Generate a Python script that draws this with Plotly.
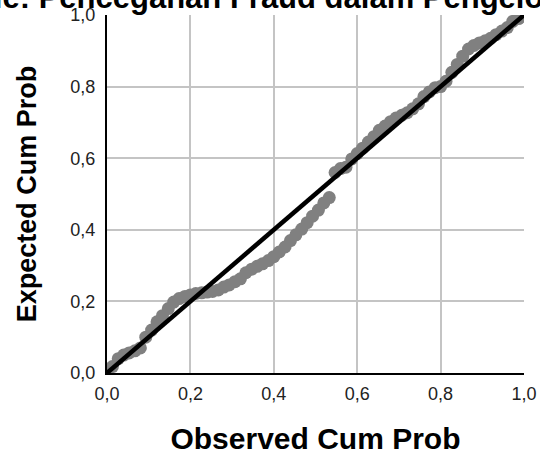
import plotly.graph_objects as go

# Normal P-P plot of regression standardized residuals
observed_cum_prob = [
    0.013, 0.027, 0.040, 0.053, 0.067, 0.080, 0.093, 0.107, 0.120, 0.133,
    0.147, 0.160, 0.173, 0.187, 0.200, 0.213, 0.227, 0.240, 0.253, 0.267,
    0.280, 0.293, 0.307, 0.320, 0.333, 0.347, 0.360, 0.373, 0.387, 0.400,
    0.413, 0.427, 0.440, 0.453, 0.467, 0.480, 0.493, 0.507, 0.520, 0.533,
    0.547, 0.560, 0.573, 0.587, 0.600, 0.613, 0.627, 0.640, 0.653, 0.667,
    0.680, 0.693, 0.707, 0.720, 0.733, 0.747, 0.760, 0.773, 0.787, 0.800,
    0.813, 0.827, 0.840, 0.853, 0.867, 0.880, 0.893, 0.907, 0.920, 0.933,
    0.947, 0.960, 0.973, 0.987, 1.000,
]
expected_cum_prob = [
    0.018, 0.040, 0.050, 0.056, 0.062, 0.070, 0.100, 0.120, 0.143, 0.160,
    0.180, 0.198, 0.208, 0.214, 0.218, 0.222, 0.224, 0.226, 0.228, 0.232,
    0.240, 0.246, 0.255, 0.263, 0.280, 0.290, 0.298, 0.305, 0.314, 0.325,
    0.338, 0.352, 0.370, 0.386, 0.402, 0.420, 0.438, 0.455, 0.475, 0.490,
    0.560, 0.571, 0.575, 0.598, 0.613, 0.628, 0.645, 0.660, 0.678, 0.690,
    0.702, 0.712, 0.720, 0.727, 0.738, 0.752, 0.772, 0.785, 0.797, 0.800,
    0.815, 0.840, 0.862, 0.885, 0.905, 0.915, 0.922, 0.928, 0.935, 0.945,
    0.955, 0.965, 0.982, 0.990, 0.997,
]
reference_line = [0.0, 1.0]

tick_vals = [0.0, 0.2, 0.4, 0.6, 0.8, 1.0]
tick_text = ["0,0", "0,2", "0,4", "0,6", "0,8", "1,0"]

title_text = "Dependent Variable: Pencegahan Fraud dalam Pengelolaan Dana Desa"

FONT = "Liberation Sans, Arial"

fig = go.Figure()
fig.add_trace(go.Scatter(
    x=observed_cum_prob, y=expected_cum_prob, mode="markers",
    marker=dict(size=13, color="#808080", line=dict(width=0)),
    hoverinfo="skip", showlegend=False,
))
fig.add_trace(go.Scatter(
    x=reference_line, y=reference_line, mode="lines",
    line=dict(color="black", width=4.5), cliponaxis=False,
    hoverinfo="skip", showlegend=False,
))

axis_common = dict(
    range=[0, 1], tickmode="array", tickvals=tick_vals, ticktext=tick_text,
    showgrid=True, gridcolor="#c4c4c4", gridwidth=2,
    showline=True, linecolor="black", linewidth=2, mirror=False,
    zeroline=False, ticks="", automargin=False,
    tickfont=dict(family=FONT, size=18, color="#222222"),
)

fig.update_layout(
    width=540, height=457,
    margin=dict(l=107, r=16, t=15, b=84),
    plot_bgcolor="white", paper_bgcolor="white",
    xaxis=dict(axis_common, ticklabelstandoff=3,
               title=dict(text="<b>Observed Cum Prob</b>", standoff=25,
                          font=dict(family=FONT, size=30, color="black"))),
    yaxis=dict(axis_common, ticklabelstandoff=6,
               title=dict(text="<b>Expected Cum Prob</b>", standoff=26,
                          font=dict(family=FONT, size=27, color="black"))),
    annotations=[dict(
        text="<b>" + title_text + "</b>", xref="paper", yref="paper",
        x=(-270 - 107) / 417, y=1.05, xanchor="left", yanchor="middle",
        showarrow=False,
        font=dict(family=FONT, size=31, color="black"),
    )],
)

fig.write_html("out.html")
